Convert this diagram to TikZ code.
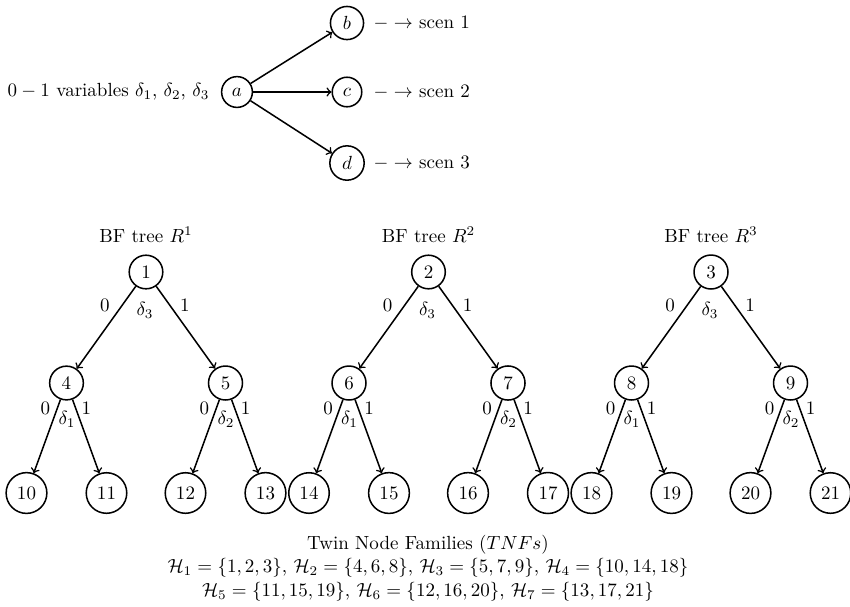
\documentclass[tikz,border=0pt]{standalone}
\usepackage{amsmath}
\newcommand{\bftree}[8]{%
  \node (t#2) at (#1,235) {BF tree $R^{#2}$};
  \node[vtx] (n#2) at (#1,272) {#2};
  \node[vtx] (n#3) at ({#1-79.5},383) {#3};
  \node[vtx] (n#4) at ({#1+79.5},383) {#4};
  \node[vtx] (n#5) at ({#1-119.5},493) {#5};
  \node[vtx] (n#6) at ({#1-39.5},493) {#6};
  \node[vtx] (n#7) at ({#1+39.5},493) {#7};
  \node[vtx] (n#8) at ({#1+119.5},493) {#8};
  \draw[arr] (n#2) -- (n#3);
  \draw[arr] (n#2) -- (n#4);
  \draw[arr] (n#3) -- (n#5);
  \draw[arr] (n#3) -- (n#6);
  \draw[arr] (n#4) -- (n#7);
  \draw[arr] (n#4) -- (n#8);
  \node[lab] (za#2) at ({#1-41},305) {0};
  \node[lab] (da#2) at ({#1-1},310) {$\delta_3$};
  \node[lab] (oa#2) at ({#1+39},305) {1};
  \node[lab] (zb#2) at ({#1-79.5-21},408) {0};
  \node[lab] (db#2) at ({#1-79.5+0.5},419) {$\delta_1$};
  \node[lab] (ob#2) at ({#1-79.5+20},408) {1};
  \node[lab] (zc#2) at ({#1+79.5-21},408) {0};
  \node[lab] (dc#2) at ({#1+79.5+0.5},419) {$\delta_2$};
  \node[lab] (oc#2) at ({#1+79.5+20},408) {1};
}
\begin{document}
\begin{tikzpicture}[x=0.526pt,y=-0.526pt,
  vtx/.style={circle,draw,thick},
  arr/.style={->,thick},
  lab/.style={inner sep=1pt},
  foot/.style={anchor=north,inner sep=0pt,align=center}]
\useasboundingbox (0,0) rectangle (850,606);
% top part
\node[vtx] (a) at (237,92) {$a$};
\node[vtx] (b) at (347,23) {$b$};
\node[vtx] (c) at (347,92) {$c$};
\node[vtx] (d) at (347,163) {$d$};
\node[anchor=east] (vars) at (216,92) {$0-1$ variables $\delta_1$, $\delta_2$, $\delta_3$};
\node[anchor=west] (s1) at (367,23) {$-\rightarrow$ scen 1};
\node[anchor=west] (s2) at (367,92) {$-\rightarrow$ scen 2};
\node[anchor=west] (s3) at (367,163) {$-\rightarrow$ scen 3};
\draw[arr] (a) -- (b);
\draw[arr] (a) -- (c);
\draw[arr] (a) -- (d);
% trees
\bftree{146}{1}{4}{5}{10}{11}{12}{13}
\bftree{428.5}{2}{6}{7}{14}{15}{16}{17}
\bftree{711}{3}{8}{9}{18}{19}{20}{21}
% bottom text
\node[foot] (f1) at (428,535) {Twin Node Families ($TNFs$)\\
$\mathcal{H}_1=\{1,2,3\}$, $\mathcal{H}_2=\{4,6,8\}$, $\mathcal{H}_3=\{5,7,9\}$, $\mathcal{H}_4=\{10,14,18\}$\\[0.6pt]
$\mathcal{H}_5=\{11,15,19\}$, $\mathcal{H}_6=\{12,16,20\}$, $\mathcal{H}_7=\{13,17,21\}$};
\end{tikzpicture}
\end{document}
